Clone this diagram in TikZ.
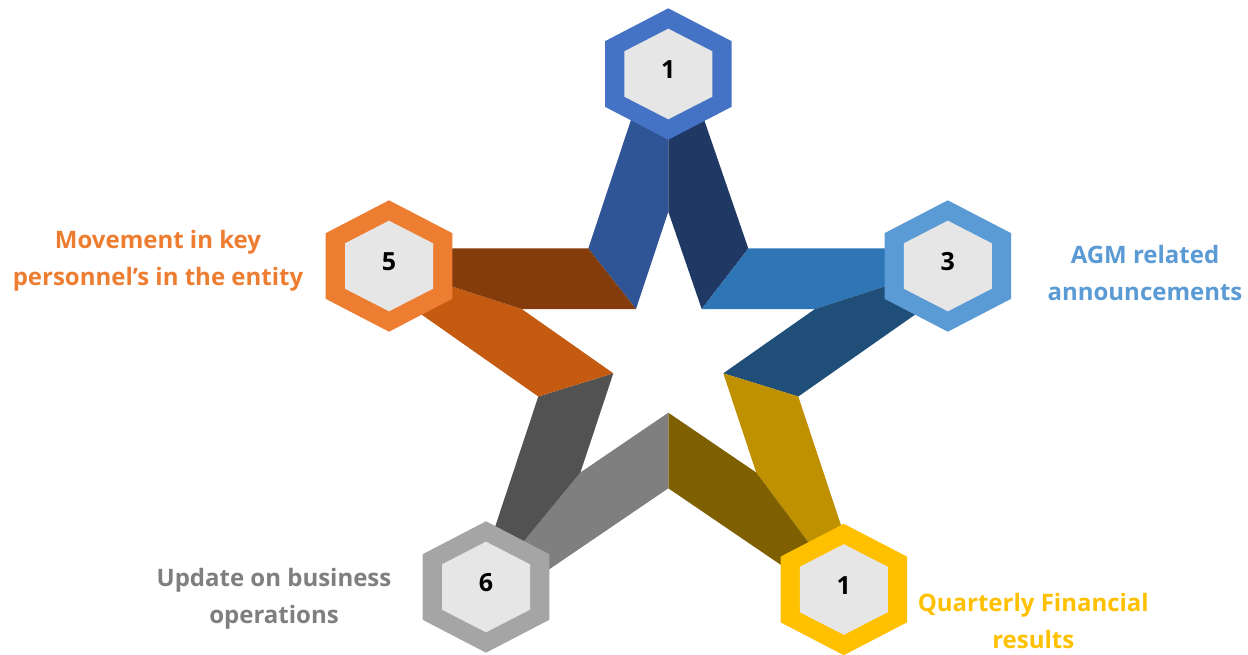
\documentclass[tikz,border=0pt]{standalone}
\usepackage{fontspec}
\setmainfont{Open Sans}
\usetikzlibrary{calc}

% palette
\definecolor{hexcore}{HTML}{E7E6E6}
\definecolor{blueA}{HTML}{4472C4}
\definecolor{blueAl}{HTML}{2F5597}
\definecolor{blueAr}{HTML}{203864}
\definecolor{blueB}{HTML}{5B9BD5}
\definecolor{blueBu}{HTML}{2E75B6}
\definecolor{blueBl}{HTML}{1F4E79}
\definecolor{goldC}{HTML}{FFC000}
\definecolor{goldCr}{HTML}{BF9000}
\definecolor{goldCl}{HTML}{7F6000}
\definecolor{greyD}{HTML}{A5A5A5}
\definecolor{greyDl}{HTML}{7F7F7F}
\definecolor{greyDd}{HTML}{525252}
\definecolor{orangeE}{HTML}{ED7D31}
\definecolor{orangeEl}{HTML}{C55A11}
\definecolor{orangeEu}{HTML}{843C0C}

\tikzset{
  % anchor=base sits on the baseline of the last line
  lbl/.style={align=center, anchor=base, inner sep=0pt,
    font=\fontsize{24}{36.5}\selectfont\bfseries},
  numlbl/.style={inner sep=0pt, font=\fontsize{25}{28}\selectfont\bfseries},
  pics/badge/.style n args={2}{code={
    \fill[#1] (0,-65.7) -- (63.3,-32.8) -- (63.3,32.8) -- (0,65.7)
      -- (-63.3,32.8) -- (-63.3,-32.8) -- cycle;
    \fill[hexcore] (0,-45.3) -- (44,-22.7) -- (44,22.7) -- (0,45.3)
      -- (-44,22.7) -- (-44,-22.7) -- cycle;
    \node[numlbl] (-num) at (0,-4) {#2};
  }}
}

\begin{document}
\begin{tikzpicture}[x=1pt, y=-1pt]
  \useasboundingbox (0,0) rectangle (1248,655);
  \fill[white] (0,0) rectangle (1248,655);

  % tips of the inner star
  \coordinate (T)  at (668.3,211.7);
  \coordinate (R)  at (815,309);
  \coordinate (BR) at (756.2,472.5);
  \coordinate (BL) at (580.4,472.5);
  \coordinate (L)  at (521.7,309);
  % concave corners of the inner star
  \coordinate (C1) at (636,309);
  \coordinate (C2) at (701.7,309);
  \coordinate (C3) at (723.3,373.3);
  \coordinate (C4) at (668.3,412.7);
  \coordinate (C5) at (613.3,373.3);
  % outer corners of the joints
  \coordinate (O1) at (588.3,248.5);
  \coordinate (O2) at (748.3,248.5);
  \coordinate (O3) at (798.3,396.5);
  \coordinate (O4) at (668.3,488.3);
  \coordinate (O5) at (538.3,396.5);
  % badge centres
  \coordinate (hA) at (668.3,74);
  \coordinate (hB) at (947.8,266);
  \coordinate (hC) at (843.8,589.5);
  \coordinate (hD) at (486,587);
  \coordinate (hE) at (389,266);

  % ribbons: tip, corner, outer corner, run into the badge, badge centre
  \fill[blueAl]   (T)  -- (C1) -- (O1) -- ($(O1)+1.5*(T)-1.5*(C1)$) -- (hA) -- cycle;
  \fill[blueAr]   (T)  -- (C2) -- (O2) -- ($(O2)+1.5*(T)-1.5*(C2)$) -- (hA) -- cycle;
  \fill[blueBu]   (R)  -- (C2) -- (O2) -- ($(O2)+1.5*(R)-1.5*(C2)$) -- (hB) -- cycle;
  \fill[blueBl]   (R)  -- (C3) -- (O3) -- ($(O3)+1.5*(R)-1.5*(C3)$) -- (hB) -- cycle;
  \fill[goldCr]   (BR) -- (C3) -- (O3) -- ($(O3)+1.5*(BR)-1.5*(C3)$) -- (hC) -- cycle;
  \fill[goldCl]   (BR) -- (C4) -- (O4) -- ($(O4)+1.5*(BR)-1.5*(C4)$) -- (hC) -- cycle;
  \fill[greyDl]   (BL) -- (C4) -- (O4) -- ($(O4)+1.5*(BL)-1.5*(C4)$) -- (hD) -- cycle;
  \fill[greyDd]   (BL) -- (C5) -- (O5) -- ($(O5)+1.5*(BL)-1.5*(C5)$) -- (hD) -- cycle;
  \fill[orangeEl] (L)  -- (C5) -- (O5) -- ($(O5)+1.5*(L)-1.5*(C5)$) -- (hE) -- cycle;
  \fill[orangeEu] (L)  -- (C1) -- (O1) -- ($(O1)+1.5*(L)-1.5*(C1)$) -- (hE) -- cycle;

  % badges
  \pic (bA) at (hA) {badge={blueA}{1}};
  \pic (bB) at (hB) {badge={blueB}{3}};
  \pic (bC) at (hC) {badge={goldC}{1}};
  \pic (bD) at (hD) {badge={greyD}{6}};
  \pic (bE) at (hE) {badge={orangeE}{5}};

  % captions
  \node[lbl, text=orangeE] (capE) at (158,285) {Movement in key\\personnel’s in the entity};
  \node[lbl, text=blueB]   (capB) at (1145,300) {AGM related\\announcements};
  \node[lbl, text=greyDl]  (capD) at (274,623.3) {Update on business\\operations};
  \node[lbl, text=goldC]   (capC) at (1033.3,648.3) {Quarterly Financial\\results};
\end{tikzpicture}
\end{document}
